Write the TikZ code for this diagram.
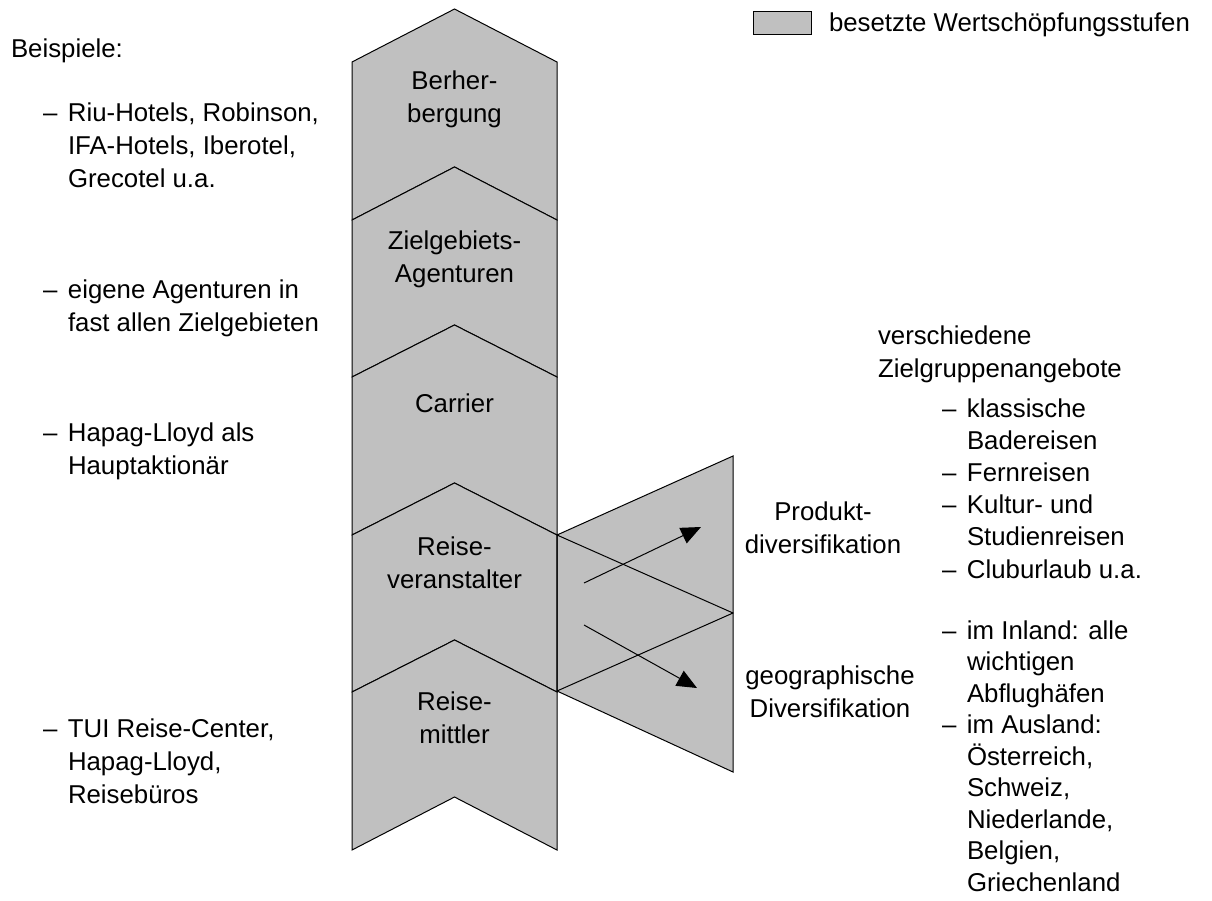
\documentclass[tikz,border=0pt]{standalone}
\usepackage{fontspec}
\setmainfont{Liberation Sans}
\usetikzlibrary{arrows.meta}
\definecolor{stagegray}{RGB}{192,192,192}
\begin{document}
\begin{tikzpicture}[x=1pt,y=-1pt,
  every node/.style={inner sep=0pt, outer sep=0pt, font=\fontsize{25.8}{32.5}\selectfont},
  stage/.style={fill=stagegray, draw=black, line width=1pt, line join=miter},
  stagefill/.style={fill=stagegray},
  stageline/.style={draw=black, line width=1pt, line join=miter},
  lbl/.style={anchor=base, align=center},
  txt/.style={anchor=base west, align=left},
  lsp/.style={font=\fontsize{25.8}{#1}\selectfont},
  dvarrow/.style={draw=black, line width=1pt, -{Triangle[length=20pt,width=17pt]}}]
\useasboundingbox (0,0) rectangle (1212,900);

% value-chain column
\path[stage] (352,62)--(454.5,9)--(557,62)--(557,220)--(454.5,167)--(352,220)--cycle;
\path[stage] (352,220)--(454.5,167)--(557,220)--(557,377)--(454.5,325)--(352,377)--cycle;
\path[stage] (352,377)--(454.5,325)--(557,377)--(557,535)--(454.5,483)--(352,535)--cycle;
\path[stage] (352,535)--(454.5,483)--(557,535)--(557,692)--(454.5,640)--(352,692)--cycle;
\path[stage] (352,692)--(454.5,640)--(557,692)--(557,850)--(454.5,797)--(352,850)--cycle;

% diversification parallelograms
\path[stagefill] (557,535)--(733,456)--(733,613)--(557,691)--cycle;
\path[stagefill] (557,535)--(733,613)--(733,772)--(557,691)--cycle;
\path[stageline] (557,535)--(733,456)--(733,613)--(557,691)--cycle;
\path[stageline] (557,535)--(733,613)--(733,772)--(557,691)--cycle;

% arrows
\coordinate (a1s) at (584,583);
\coordinate (a1e) at (701,527);
\coordinate (a2s) at (584,625);
\coordinate (a2e) at (697,688);
\draw[dvarrow] (a1s) -- (a1e);
\draw[dvarrow] (a2s) -- (a2e);

% stage labels (anchor = baseline of last line)
\node[lbl] (s1) at (454.5,122) {Berher-\\bergung};
\node[lbl] (s2) at (454.5,282) {Zielgebiets-\\Agenturen};
\node[lbl] (s3) at (454.5,412) {Carrier};
\node[lbl] (s4) at (454.5,588) {Reise-\\veranstalter};
\node[lbl] (s5) at (454.5,743) {Reise-\\mittler};

% legend
\node[draw=black, fill=stagegray, line width=1pt, minimum width=58pt, minimum height=23pt, anchor=north west] (legbox) at (753,11) {};
\node[txt] (legtxt) at (829,31) {besetzte Wertschöpfungsstufen};

% left examples
\node[txt] (bsp) at (11,57) {Beispiele:};
\node[txt, lsp=33] (ex1) at (43,187) {\makebox[25pt][l]{–}Riu-Hotels, Robinson,\\\hspace*{25pt}IFA-Hotels, Iberotel,\\\hspace*{25pt}Grecotel u.a.};
\node[txt, lsp=33] (ex2) at (43,331) {\makebox[25pt][l]{–}eigene Agenturen in\\\hspace*{25pt}fast allen Zielgebieten};
\node[txt, lsp=33] (ex3) at (43,474) {\makebox[25pt][l]{–}Hapag-Lloyd als\\\hspace*{25pt}Hauptaktionär};
\node[txt, lsp=33] (ex4) at (43,803) {\makebox[25pt][l]{–}TUI Reise-Center,\\\hspace*{25pt}Hapag-Lloyd,\\\hspace*{25pt}Reisebüros};

% right side
\node[lbl] (pd) at (823,553) {Produkt-\\diversifikation};
\node[lbl] (gd) at (830,717) {geographische\\Diversifikation};
\node[txt] (zg) at (878,377) {verschiedene\\Zielgruppenangebote};
\node[txt, lsp=32.2] (zl) at (942,578) {\makebox[25pt][l]{–}klassische\\\hspace*{25pt}Badereisen\\\makebox[25pt][l]{–}Fernreisen\\\makebox[25pt][l]{–}Kultur- und\\\hspace*{25pt}Studienreisen\\\makebox[25pt][l]{–}Cluburlaub u.a.};
\node[txt, lsp=31.5] (gl) at (942,891) {\makebox[25pt][l]{–}im Inland: alle\\\hspace*{25pt}wichtigen\\\hspace*{25pt}Abflughäfen\\\makebox[25pt][l]{–}im Ausland:\\\hspace*{25pt}Österreich,\\\hspace*{25pt}Schweiz,\\\hspace*{25pt}Niederlande,\\\hspace*{25pt}Belgien,\\\hspace*{25pt}Griechenland};
\end{tikzpicture}
\end{document}
